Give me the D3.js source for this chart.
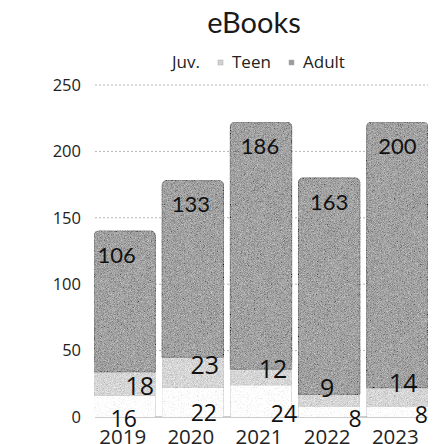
<!DOCTYPE html>
<html>
<head>
<meta charset="utf-8">
<script src="https://cdn.jsdelivr.net/npm/d3@7"></script>
<style>
  html, body { margin: 0; padding: 0; background: #fff; }
  svg { display: block; }
</style>
</head>
<body>
<svg id="chart" width="437" height="444"></svg>
<script>
// eBook circulation by audience, stacked per year
const years = ["2019", "2020", "2021", "2022", "2023"];
const juv = [16, 22, 24, 8, 8];
const teen = [18, 23, 12, 9, 14];
const adult = [106, 133, 186, 163, 200];
const yTicks = [0, 50, 100, 150, 200, 250];
const seriesNames = ["Juv.", "Teen", "Adult"];

// label nudges (px) so the small-segment labels don't collide
const juvNudge = [[-1, 2], [11, -4], [23, -3], [26, 2], [24, -2]];
const teenNudge = [[15, 2], [12, -7], [12, -8], [-2, -12], [6, -14]];
const adultNudge = [[-8, 0], [-2, 0], [-1, 0], [0, 0], [0, 0]];

const svg = d3.select("#chart");
const W = 437, H = 444;
const margin = { left: 94, right: 9, top: 85, bottom: 27 };

const rows = years.map((yr, i) => ({ year: yr, "Juv.": juv[i], Teen: teen[i], Adult: adult[i] }));
const stacked = d3.stack().keys(seriesNames)(rows);

const x = d3.scaleBand().domain(years)
  .range([margin.left, W - margin.right]).paddingInner(0.1).paddingOuter(0);
const y = d3.scaleLinear().domain([0, 250]).range([H - margin.bottom, margin.top]);

const fills = { "Juv.": "#fdfdfd", Teen: "#d2d2d2", Adult: "#9c9c9c" };
const axisFont = "'Open Sans', 'Noto Sans', sans-serif";
const labelFont = "Lato, 'Open Sans', sans-serif";

// film-grain texture used on the bars
const defs = svg.append("defs");
const f = defs.append("filter").attr("id", "grain")
  .attr("x", 0).attr("y", 0).attr("width", 1).attr("height", 1);
f.append("feTurbulence").attr("type", "fractalNoise").attr("baseFrequency", 1.3)
  .attr("numOctaves", 1).attr("seed", 7).attr("result", "noise");
f.append("feColorMatrix").attr("in", "noise").attr("type", "matrix")
  .attr("values", "0.33 0.33 0.33 0 0  0.33 0.33 0.33 0 0  0.33 0.33 0.33 0 0  0 0 0 0 1")
  .attr("result", "gray");
f.append("feComposite").attr("in", "SourceGraphic").attr("in2", "gray")
  .attr("operator", "arithmetic").attr("k1", 0).attr("k2", 1).attr("k3", 1.3).attr("k4", -0.62)
  .attr("result", "mix");
f.append("feComposite").attr("in", "mix").attr("in2", "SourceGraphic").attr("operator", "in");

// title
svg.append("text").attr("x", 254).attr("y", 33).attr("text-anchor", "middle")
  .attr("font-family", labelFont).attr("font-size", 29).attr("fill", "#1a1a1a")
  .text("eBooks");

// legend
const legendX = [172, 218, 289];
const legend = svg.append("g").selectAll("g").data(seriesNames).join("g")
  .attr("transform", (d, i) => `translate(${legendX[i]},68)`);
legend.append("rect").attr("x", 0).attr("y", -8).attr("width", 5).attr("height", 5)
  .attr("fill", d => d === "Juv." ? "none" : fills[d])
  .attr("stroke", d => d === "Juv." ? "none" : "#aaa").attr("stroke-width", 0.5);
legend.append("text").attr("x", d => d === "Juv." ? 0 : 14).attr("y", 0)
  .attr("font-family", axisFont).attr("font-size", 17).attr("fill", "#222")
  .text(d => d);

// gridlines
svg.append("g").selectAll("line").data(yTicks).join("line")
  .attr("x1", margin.left + 1).attr("x2", W - margin.right)
  .attr("y1", d => y(d)).attr("y2", d => y(d))
  .attr("stroke", d => d === 0 ? "#9a9a9a" : "#b5b5b5")
  .attr("stroke-width", 1)
  .attr("stroke-dasharray", d => d === 0 ? null : "2,2");

// y tick labels
svg.append("g").selectAll("text").data(yTicks).join("text")
  .attr("x", 81).attr("y", d => y(d)).attr("dy", "0.35em")
  .attr("text-anchor", "end").attr("font-family", axisFont).attr("font-size", 16.5)
  .attr("fill", "#222").text(d => d);

// bars
const bw = x.bandwidth();
const r = 5;
function barPath(x0, y0, y1, round) {
  // y0 = bottom, y1 = top
  if (!round) return `M${x0},${y0}V${y1}H${x0 + bw}V${y0}Z`;
  return `M${x0},${y0}V${y1 + r}Q${x0},${y1} ${x0 + r},${y1}H${x0 + bw - r}Q${x0 + bw},${y1} ${x0 + bw},${y1 + r}V${y0}Z`;
}
const barG = svg.append("g").attr("filter", "url(#grain)");
stacked.forEach(s => {
  barG.append("g").selectAll("path").data(s).join("path")
    .attr("d", d => barPath(x(d.data.year), y(d[0]), y(d[1]), s.key === "Adult"))
    .attr("fill", fills[s.key])
    .attr("stroke", s.key === "Adult" ? "#6e6e6e" : "none")
    .attr("stroke-width", 0.8);
});

// value labels
const cx = i => x(years[i]) + bw / 2;
svg.append("g").selectAll("text").data(adult).join("text")
  .attr("x", (d, i) => cx(i) + adultNudge[i][0])
  .attr("y", (d, i) => y(juv[i] + teen[i] + d) + 24 + adultNudge[i][1])
  .attr("dy", "0.35em").attr("text-anchor", "middle")
  .attr("font-family", labelFont).attr("font-size", 22).attr("fill", "#111")
  .text(d => d);

svg.append("g").selectAll("text").data(teen).join("text")
  .attr("x", (d, i) => cx(i) + teenNudge[i][0])
  .attr("y", (d, i) => y(juv[i] + d / 2) + teenNudge[i][1])
  .attr("dy", "0.35em").attr("text-anchor", "middle")
  .attr("font-family", axisFont).attr("font-size", 25).attr("fill", "#111")
  .text(d => d);

svg.append("g").selectAll("text").data(juv).join("text")
  .attr("x", (d, i) => cx(i) + juvNudge[i][0])
  .attr("y", (d, i) => y(0) + juvNudge[i][1])
  .attr("dy", "0.35em").attr("text-anchor", "middle")
  .attr("font-family", axisFont).attr("font-size", 23).attr("fill", "#111")
  .text(d => d);

// x axis labels
svg.append("g").selectAll("text").data(years).join("text")
  .attr("x", d => x(d) + bw / 2 - 2).attr("y", 444)
  .attr("text-anchor", "middle").attr("font-family", axisFont).attr("font-size", 20.5)
  .attr("fill", "#222").text(d => d);
</script>
</body>
</html>
